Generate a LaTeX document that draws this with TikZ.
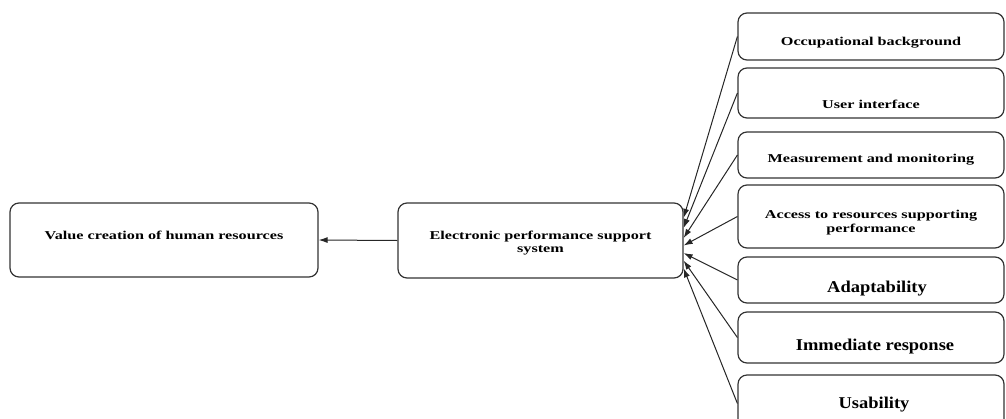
\documentclass[tikz,border=0pt]{standalone}
\usepackage{fontspec}
\setmainfont{Liberation Serif}
\newfontfamily\boxfont[FakeStretch=1.35]{Liberation Serif}
\newfontfamily\bigboxfont[FakeStretch=1.12]{Liberation Serif}
\usetikzlibrary{arrows.meta}

\begin{document}
\begin{tikzpicture}[x = 1pt, y = -1pt,
  box/.style = {draw = black!80, line width = 1.2pt, rounded corners = 9pt, inner sep = 0pt},
  lbl/.style = {font = \boxfont\bfseries\fontsize{12}{13.5}\selectfont, align = center},
  biglbl/.style = {font = \bigboxfont\bfseries\fontsize{16.5}{18}\selectfont},
  link/.style = {-{Latex[length = 9pt, width = 6pt]}, line width = 1pt, black!85}]

\useasboundingbox (0, 0) rectangle (1006, 418);
\clip (0, 0) rectangle (1006, 418);

\node[box, minimum width = 308pt, minimum height = 74pt,
  label = {[lbl, yshift = 5pt]center:Value creation of human resources}] (value) at (164, 240) {};
\node[box, minimum width = 285pt, minimum height = 75pt,
  label = {[lbl, yshift = -2.5pt]center:Electronic performance support\\system}] (epss) at (540.5, 240.5) {};

\node[box, minimum width = 266pt, minimum height = 47pt,
  label = {[lbl, yshift = -6.5pt]center:Occupational background}] (occ) at (871, 36.5) {};
\node[box, minimum width = 266pt, minimum height = 50pt,
  label = {[lbl, yshift = -11pt]center:User interface}] (ui) at (871, 93) {};
\node[box, minimum width = 266pt, minimum height = 46pt,
  label = {[lbl, yshift = -5pt]center:Measurement and monitoring}] (measure) at (871, 155) {};
\node[box, minimum width = 266pt, minimum height = 63pt,
  label = {[lbl, yshift = -6pt]center:Access to resources supporting\\performance}] (access) at (871, 216.5) {};
\node[box, minimum width = 266pt, minimum height = 46pt,
  label = {[biglbl, yshift = -9pt, xshift = 6pt]center:Adaptability}] (adapt) at (871, 280) {};
\node[box, minimum width = 266pt, minimum height = 51pt,
  label = {[biglbl, yshift = -9.5pt, xshift = 4pt]center:Immediate response}] (respond) at (871, 337.5) {};
\node[box, minimum width = 266pt, minimum height = 57pt,
  label = {[biglbl, yshift = -1.5pt, xshift = 3pt]center:Usability}] (usable) at (871, 403.5) {};

\draw[link] (epss.west) -- (value.east);

\draw[link] (occ.west) -- (epss.9);
\draw[link] (ui.west) -- (epss.5);
\draw[link] (measure.west) -- (epss.1);
\draw[link] (access.west) -- (epss.-2);
\draw[link] (adapt.west) -- (epss.-5);
\draw[link] (respond.west) -- (epss.-8.5);
\draw[link] (usable.west) -- (epss.-11.5);
\end{tikzpicture}
\end{document}
